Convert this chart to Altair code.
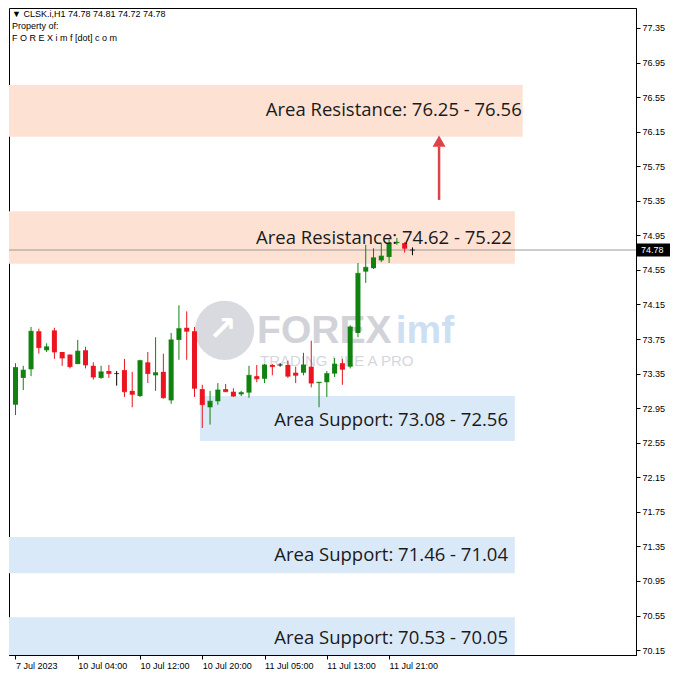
import altair as alt
import pandas as pd

# ---------------- data ----------------
bar_no = list(range(1, 53))
opens  = [72.99, 73.30, 73.40, 73.84, 73.62, 73.85, 73.60, 73.57, 73.46, 73.62,
          73.44, 73.30, 73.38, 73.35, 73.39, 73.15, 73.09, 73.48, 73.33, 73.37,
          73.04, 73.74, 73.88, 73.84, 73.17, 72.96, 73.03, 73.17, 73.14, 73.11,
          73.13, 73.32, 73.29, 73.45, 73.45, 73.45, 73.36, 73.36, 73.43, 73.24,
          73.25, 73.35, 73.47, 73.43, 73.82, 74.53, 74.57, 74.66, 74.70, 74.86,
          74.86, 74.78]
highs  = [73.47, 73.44, 73.89, 73.87, 73.70, 73.88, 73.60, 73.57, 73.74, 73.66,
          73.48, 73.44, 73.45, 73.38, 73.52, 73.37, 73.51, 73.60, 73.77, 73.58,
          73.82, 74.14, 74.07, 73.89, 73.22, 73.15, 73.24, 73.23, 73.18, 73.15,
          73.44, 73.45, 73.46, 73.46, 73.47, 73.50, 73.43, 73.59, 73.73, 73.25,
          73.38, 73.53, 73.52, 73.91, 74.63, 74.84, 74.80, 74.86, 74.90, 74.92,
          74.87, 74.81]
lows   = [72.87, 73.16, 73.32, 73.58, 73.60, 73.52, 73.44, 73.41, 73.46, 73.41,
          73.28, 73.29, 73.30, 73.21, 73.08, 72.96, 73.08, 73.24, 73.15, 73.06,
          73.00, 73.51, 73.51, 73.08, 72.72, 72.76, 72.99, 73.14, 73.08, 73.09,
          73.07, 73.25, 73.24, 73.33, 73.43, 73.30, 73.24, 73.33, 73.19, 72.96,
          73.08, 73.31, 73.22, 73.41, 73.77, 74.40, 74.56, 74.64, 74.63, 74.84,
          74.75, 74.72]
closes = [73.42, 73.39, 73.84, 73.65, 73.66, 73.60, 73.53, 73.43, 73.61, 73.45,
          73.31, 73.37, 73.35, 73.35, 73.14, 73.11, 73.50, 73.35, 73.36, 73.07,
          73.74, 73.87, 73.84, 73.18, 72.99, 73.03, 73.16, 73.14, 73.09, 73.13,
          73.33, 73.29, 73.45, 73.43, 73.45, 73.32, 73.33, 73.45, 73.24, 73.25,
          73.35, 73.46, 73.40, 73.89, 74.51, 74.58, 74.69, 74.71, 74.86, 74.87,
          74.80, 74.78]

x_tick_bars   = [1, 9, 17, 25, 33, 41, 49]
x_tick_labels = ["7 Jul 2023", "10 Jul 04:00", "10 Jul 12:00", "10 Jul 20:00",
                 "11 Jul 05:00", "11 Jul 13:00", "11 Jul 21:00"]
y_ticks = [70.15, 70.55, 70.95, 71.35, 71.75, 72.15, 72.55, 72.95, 73.35, 73.75,
           74.15, 74.55, 74.95, 75.35, 75.75, 76.15, 76.55, 76.95, 77.35]

zone_kind   = ["res", "res", "sup", "sup", "sup"]
zone_low    = [76.09, 74.62, 72.57, 71.04, 70.05]
zone_high   = [76.69, 75.23, 73.09, 71.46, 70.53]
zone_start  = [0.0, 0.0, 24.70, 0.0, 0.0]
zone_end    = [66.17, 65.16, 65.16, 65.16, 65.16]
zone_text   = ["Area Resistance: 76.25 - 76.56", "Area Resistance: 74.62 - 75.22",
               "Area Support: 73.08 - 72.56", "Area Support: 71.46 - 71.04",
               "Area Support: 70.53 - 70.05"]
label_x     = [66.04, 64.78, 64.28, 64.28, 64.28]
label_y     = [76.40, 74.92, 72.81, 71.25, 70.29]

last_price = 74.78
header_lines = ["\u25BC  CLSK.i,H1  74.78 74.81 74.72 74.78", "Property of:",
                "F O R E X i m f [dot] c o m"]

X_DOMAIN = [0.81, 80.08]
Y_DOMAIN = [70.093, 77.581]
xs = alt.Scale(domain=X_DOMAIN, nice=False, zero=False)
ys = alt.Scale(domain=Y_DOMAIN, nice=False, zero=False)

x_axis = alt.Axis(values=x_tick_bars, labelExpr="%s[indexof(%s, datum.value)]" % (
    "[" + ",".join("'%s'" % s for s in x_tick_labels) + "]",
    "[" + ",".join(str(v) for v in x_tick_bars) + "]"),
    labelAlign="left", labelPadding=2, tickSize=4, title=None, grid=False,
    labelFont="Liberation Sans", labelFontSize=9, labelColor="#000", domainColor="#000",
    tickColor="#000", labelFlush=False, labelOverlap=False)
y_axis = alt.Axis(values=y_ticks, format=".2f", orient="right", title=None, grid=False,
                  labelAlign="left", labelPadding=2, tickSize=4, labelFont="Liberation Sans",
                  labelFontSize=9, labelColor="#000", domainColor="#000", tickColor="#000",
                  labelOverlap=False, labelFlush=False)


def X(f):
    return alt.X(f, scale=xs, axis=x_axis)


def Y(f):
    return alt.Y(f, scale=ys, axis=y_axis)


# ---------------- frames ----------------
cdf = pd.DataFrame({"bar": bar_no, "open": opens, "high": highs, "low": lows, "close": closes})
cdf["col"] = ["#0f820f" if c > o else ("#ea1520" if c < o else "#000000")
              for o, c in zip(opens, closes)]
ccolor = alt.Color("col:N", scale=None, legend=None)

zdf = pd.DataFrame({"kind": zone_kind, "lo": zone_low, "hi": zone_high,
                    "x0": zone_start, "x1": zone_end, "text": zone_text,
                    "lx": label_x, "ly": label_y})
zdf["col"] = ["#fde2d4" if k == "res" else "#dae9f8" for k in zone_kind]

zones = alt.Chart(zdf).mark_rect(clip=True).encode(
    x=X("x0:Q"), x2="x1:Q", y=Y("lo:Q"), y2="hi:Q",
    color=alt.Color("col:N", scale=None, legend=None))

# watermark
wm_logo = alt.Chart(pd.DataFrame({"x": [27.86], "y": [73.85]})).mark_point(
    shape="circle", filled=True, size=3500, color="#c9c9d3", opacity=0.7).encode(
    x=X("x:Q"), y=Y("y:Q"))
wm_arrow = alt.Chart(pd.DataFrame({"x": [27.6], "y": [73.85], "t": ["\u2197"]})).mark_text(
    fontSize=34, fontWeight="bold", color="#ffffff", font="DejaVu Sans").encode(
    x=X("x:Q"), y=Y("y:Q"), text="t:N")
wm_forex = alt.Chart(pd.DataFrame({"x": [32.04], "y": [73.84], "t": ["FOREX"]})).mark_text(
    fontSize=39, fontWeight="bold", color="#c4c4cd", opacity=0.75, align="left",
    baseline="middle", font="Liberation Sans").encode(x=X("x:Q"), y=Y("y:Q"), text="t:N")
wm_imf = alt.Chart(pd.DataFrame({"x": [49.86], "y": [73.84], "t": ["imf"]})).mark_text(
    fontSize=39, fontWeight="bold", color="#bfd5ef", opacity=0.75, align="left",
    baseline="middle", font="Liberation Sans").encode(x=X("x:Q"), y=Y("y:Q"), text="t:N")
wm_tag = alt.Chart(pd.DataFrame({"x": [32.42], "y": [73.50], "t": ["TRADING LIKE A PRO"]})).mark_text(
    fontSize=15, color="#d6d6de", align="left", baseline="middle",
    font="Liberation Sans").encode(x=X("x:Q"), y=Y("y:Q"), text="t:N")

# candles
wicks = alt.Chart(cdf).mark_rule(strokeWidth=1, clip=True).encode(
    x=X("bar:Q"), y=Y("low:Q"), y2="high:Q", color=ccolor)
bodies = alt.Chart(cdf).mark_bar(size=5, clip=True).encode(
    x=X("bar:Q"), y=Y("open:Q"), y2="close:Q", color=ccolor)
flat = alt.Chart(cdf).mark_tick(orient="horizontal", size=5, thickness=1, clip=True).encode(
    x=X("bar:Q"), y=Y("close:Q"), color=ccolor)

labels = alt.Chart(zdf).mark_text(align="right", baseline="middle", fontSize=18.5,
                                  font="Open Sans", color="#1a1a1a").encode(
    x=X("lx:Q"), y=Y("ly:Q"), text="text:N")

# arrow
arrow_df = pd.DataFrame({"x": [55.42], "y0": [75.36], "y1": [75.98], "yh": [76.04]})
arrow_shaft = alt.Chart(arrow_df).mark_rule(strokeWidth=2.5, color="#dc4448").encode(
    x=X("x:Q"), y=Y("y0:Q"), y2="y1:Q")
arrow_head = alt.Chart(arrow_df).mark_point(shape="triangle-up", filled=True, size=170,
                                            color="#dc4448", opacity=1).encode(
    x=X("x:Q"), y=Y("yh:Q"))

# last price line and box
lp_df = pd.DataFrame({"p": [last_price], "t": ["%.2f" % last_price],
                      "top": [last_price + 0.075], "bot": [last_price - 0.075]})
lp_line = alt.Chart(lp_df).mark_rule(color="#9a9a9a", strokeWidth=1).encode(y=Y("p:Q"))
lp_box = alt.Chart(lp_df).mark_rect(color="#000000", clip=False).encode(
    x=alt.value(628), x2=alt.value(661), y=Y("top:Q"), y2="bot:Q")
lp_text = alt.Chart(lp_df).mark_text(color="#ffffff", align="left", baseline="middle",
                                     fontSize=9, font="Liberation Sans", clip=False).encode(
    x=alt.value(632), y=Y("p:Q"), text="t:N")

# header text
headers = []
for i, line in enumerate(header_lines):
    headers.append(alt.Chart(pd.DataFrame({"t": [line]})).mark_text(
        align="left", baseline="middle", fontSize=9, font="Liberation Sans", color="#000").encode(
        x=alt.value(3), y=alt.value(6 + 12 * i), text="t:N"))

chart = alt.layer(zones, wm_logo, wm_arrow, wm_forex, wm_imf, wm_tag, lp_line,
                  wicks, bodies, flat, labels, arrow_shaft, arrow_head,
                  lp_box, lp_text, *headers).properties(
    width=627, height=647, padding=0, background="#ffffff"
).configure_view(stroke="#000000", strokeWidth=1)

chart.save("out.html", embed_options={"renderer": "svg", "actions": False})
